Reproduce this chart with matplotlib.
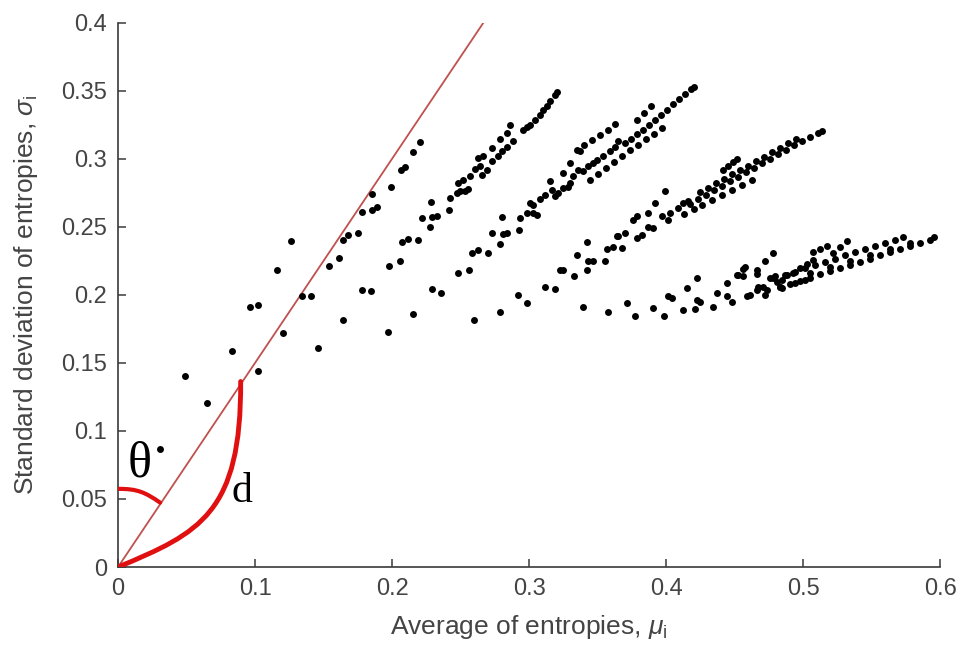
import numpy as np
import matplotlib
matplotlib.use("Agg")
import matplotlib.pyplot as plt
from matplotlib.path import Path
from matplotlib.patches import PathPatch

# ---------------- data ----------------
# points near the red reference line
mu_near = [0.0307, 0.0489, 0.0647, 0.0830, 0.0964, 0.1024, 0.1024, 0.1158, 0.1259, 0.1207,
           0.1341, 0.1407, 0.1462, 0.1540, 0.1615, 0.1645, 0.1681, 0.1752, 0.1645, 0.1779,
           0.1852, 0.1888, 0.1852, 0.1779, 0.1843, 0.1989, 0.2062, 0.2091, 0.2155, 0.2204,
           0.1973]
sd_near = [0.0868, 0.1404, 0.1208, 0.1588, 0.1910, 0.1926, 0.1441, 0.2180, 0.2393, 0.1721,
           0.1993, 0.1993, 0.1608, 0.2213, 0.2270, 0.2404, 0.2441, 0.2454, 0.1813, 0.2608,
           0.2621, 0.2642, 0.2741, 0.2037, 0.2026, 0.2792, 0.2915, 0.2938, 0.3048, 0.3123,
           0.1726]

# first fan (ends near 0.32, 0.35)
mu_fan1 = [0.1978, 0.2058, 0.2071, 0.2119, 0.2190, 0.2155, 0.2290, 0.2354, 0.2217, 0.2277,
           0.2288, 0.2326, 0.2285, 0.2416, 0.2423, 0.2472, 0.2496, 0.2533, 0.2557, 0.2484,
           0.2520, 0.2569, 0.2606, 0.2642, 0.2655, 0.2691, 0.2728, 0.2776, 0.2801, 0.2837,
           0.2885, 0.2630, 0.2666, 0.2728, 0.2788, 0.2837, 0.2861, 0.2958, 0.3007, 0.3044,
           0.3080, 0.3104, 0.3153, 0.3190, 0.3204, 0.2983, 0.3128]
sd_fan1 = [0.2213, 0.2245, 0.2385, 0.2410, 0.2404, 0.1858, 0.2042, 0.2011, 0.2563, 0.2495,
           0.2571, 0.2581, 0.2679, 0.2625, 0.2710, 0.2748, 0.2760, 0.2765, 0.2777, 0.2821,
           0.2846, 0.2870, 0.2924, 0.2949, 0.2882, 0.2919, 0.2980, 0.3022, 0.3054, 0.3090,
           0.3127, 0.3005, 0.3017, 0.3079, 0.3145, 0.3189, 0.3250, 0.3213, 0.3250, 0.3282,
           0.3324, 0.3355, 0.3421, 0.3471, 0.3489, 0.3230, 0.3390]

# second fan (ends near 0.42, 0.35)
mu_fan2 = [0.2484, 0.2562, 0.2582, 0.2630, 0.2699, 0.2595, 0.2728, 0.2788, 0.2801, 0.2812,
           0.2842, 0.2929, 0.2934, 0.2983, 0.3031, 0.3056, 0.3007, 0.3031, 0.3080, 0.3117,
           0.3166, 0.3190, 0.3214, 0.3250, 0.3287, 0.3299, 0.3153, 0.3250, 0.3299, 0.3372,
           0.3323, 0.3360, 0.3396, 0.3433, 0.3469, 0.3494, 0.3542, 0.3591, 0.3628, 0.3652,
           0.3701, 0.3745, 0.3788, 0.3832, 0.3876, 0.3920, 0.3964, 0.4007, 0.4051, 0.4095,
           0.4139, 0.4182, 0.4204,
           0.3445, 0.3504, 0.3562, 0.3620, 0.3679, 0.3737, 0.3796, 0.3854, 0.3912, 0.3971,
           0.3350, 0.3401, 0.3460, 0.3518, 0.3577, 0.3628, 0.3788, 0.3839, 0.3891]
sd_fan2 = [0.2164, 0.2179, 0.2311, 0.2326, 0.2307, 0.1816, 0.2458, 0.2375, 0.2571, 0.2449,
           0.2454, 0.2478, 0.2568, 0.2605, 0.2601, 0.2588, 0.2674, 0.2662, 0.2704, 0.2735,
           0.2772, 0.2723, 0.2748, 0.2785, 0.2796, 0.2821, 0.2833, 0.2895, 0.2968, 0.3054,
           0.2870, 0.2919, 0.2907, 0.2944, 0.2968, 0.2993, 0.3017, 0.3054, 0.3090, 0.3127,
           0.3118, 0.3147, 0.3184, 0.3213, 0.3250, 0.3287, 0.3324, 0.3360, 0.3404, 0.3441,
           0.3478, 0.3515, 0.3529,
           0.2846, 0.2890, 0.2934, 0.2978, 0.3022, 0.3066, 0.3103, 0.3147, 0.3184, 0.3228,
           0.3066, 0.3103, 0.3140, 0.3176, 0.3213, 0.3257, 0.3287, 0.3338, 0.3390]

# third fan (ends near 0.51, 0.32)
mu_fan3 = [0.2917, 0.2983, 0.2788, 0.3117, 0.3190, 0.3226, 0.3250, 0.3328, 0.3348, 0.3421,
           0.3421, 0.3433, 0.3469, 0.3555, 0.3567, 0.3615, 0.3652, 0.3396, 0.3579,
           0.3640, 0.3701, 0.3677, 0.3786, 0.3823, 0.3761, 0.3786, 0.3871, 0.3907, 0.3871,
           0.3920, 0.3993, 0.3969, 0.4017, 0.4029, 0.4090, 0.4126, 0.4163,
           0.4175, 0.4234, 0.4292, 0.4350, 0.4409, 0.4467, 0.4526, 0.4584, 0.4642, 0.4701,
           0.4759, 0.4818, 0.4876, 0.4934, 0.4993, 0.5051, 0.5109, 0.5139,
           0.4248, 0.4307, 0.4365, 0.4423, 0.4482, 0.4540, 0.4599, 0.4657, 0.4715, 0.4774,
           0.4832, 0.4891, 0.4949,
           0.4416, 0.4453, 0.4489, 0.4518,
           0.4131, 0.4204, 0.4263, 0.4336, 0.4409, 0.4482, 0.4555, 0.4628]
sd_fan3 = [0.2000, 0.1943, 0.1873, 0.2057, 0.2044, 0.2179, 0.2179, 0.2140, 0.2294, 0.2385,
           0.2179, 0.2245, 0.2245, 0.2250, 0.2336, 0.2355, 0.2434, 0.1907, 0.1873,
           0.2429, 0.2454, 0.2343, 0.2417, 0.2441, 0.2551, 0.2576, 0.2502, 0.2490, 0.2601,
           0.2674, 0.2760, 0.2576, 0.2551, 0.2601, 0.2638, 0.2674, 0.2686,
           0.2669, 0.2706, 0.2735, 0.2772, 0.2801, 0.2838, 0.2868, 0.2904, 0.2934, 0.2971,
           0.3000, 0.3037, 0.3066, 0.3103, 0.3132, 0.3162, 0.3191, 0.3206,
           0.2757, 0.2787, 0.2824, 0.2853, 0.2890, 0.2919, 0.2949, 0.2985, 0.3015, 0.3051,
           0.3081, 0.3118, 0.3147,
           0.2919, 0.2949, 0.2978, 0.3000,
           0.2596, 0.2632, 0.2662, 0.2699, 0.2735, 0.2772, 0.2809, 0.2846]

# fourth fan (ends near 0.60, 0.24)
mu_fan4 = [0.3713, 0.3774, 0.3907, 0.3985, 0.4017, 0.4042, 0.4126, 0.4151, 0.4212, 0.4224,
           0.4224, 0.4248, 0.4345, 0.4370, 0.4443, 0.4443, 0.4480, 0.4528, 0.4564, 0.4589,
           0.4613, 0.4662, 0.4662, 0.4723, 0.4783, 0.4710, 0.4735, 0.4783, 0.4808, 0.4845,
           0.4832, 0.4905, 0.4978, 0.5051, 0.5124, 0.5197, 0.5270, 0.5343, 0.5416, 0.5489,
           0.5562, 0.5635, 0.5708, 0.5781, 0.5854, 0.5927, 0.5956,
           0.4869, 0.4942, 0.5015, 0.5088, 0.5161, 0.5234, 0.5307, 0.5380, 0.5453, 0.5526,
           0.5599, 0.5672, 0.5730,
           0.5219, 0.5270, 0.5321,
           0.5051, 0.5197, 0.5343, 0.5489, 0.5635, 0.5781,
           0.4577, 0.4516, 0.4564, 0.4662, 0.4674, 0.4723, 0.4759, 0.4796, 0.4832, 0.4845,
           0.4881, 0.4929, 0.4978, 0.5027, 0.5075, 0.5073, 0.5124, 0.5175, 0.4942, 0.5015]
sd_fan4 = [0.1943, 0.1848, 0.1902, 0.1848, 0.1988, 0.1976, 0.1890, 0.2049, 0.1895, 0.2123,
           0.1963, 0.1951, 0.1910, 0.2013, 0.2086, 0.1988, 0.1951, 0.2147, 0.2189, 0.1988,
           0.2000, 0.2037, 0.2184, 0.2245, 0.2307, 0.2061, 0.2037, 0.2123, 0.2098, 0.2049,
           0.2059, 0.2081, 0.2103, 0.2125, 0.2154, 0.2176, 0.2199, 0.2221, 0.2243, 0.2265,
           0.2294, 0.2316, 0.2338, 0.2360, 0.2382, 0.2404, 0.2426,
           0.2147, 0.2169, 0.2199, 0.2221, 0.2243, 0.2265, 0.2294, 0.2316, 0.2338, 0.2360,
           0.2382, 0.2404, 0.2426,
           0.2309, 0.2353, 0.2397,
           0.2162, 0.2206, 0.2250, 0.2294, 0.2338, 0.2382,
           0.2201, 0.2147, 0.2135, 0.2152, 0.2061, 0.2000, 0.2123, 0.2135, 0.2061, 0.2110,
           0.2147, 0.2160, 0.2196, 0.2226, 0.2257, 0.2316, 0.2338, 0.2360, 0.2088, 0.2110]

# reference line sigma = 1.5 * mu
line_mu = [0.0, 0.2667]
line_sd = [0.0, 0.4]

# hand-drawn annotation strokes (cubic Bezier control points)
theta_mu = [0.0, 0.0140, 0.0200, 0.0307]
theta_sd = [0.0574, 0.0576, 0.0548, 0.0473]
d_mu = [0.0, 0.0600, 0.0900, 0.0895]
d_sd = [0.0, 0.0250, 0.0400, 0.1363]

x_ticks = [0, 0.1, 0.2, 0.3, 0.4, 0.5, 0.6]
x_tick_labels = ['0', '0.1', '0.2', '0.3', '0.4', '0.5', '0.6']
y_ticks = [0, 0.05, 0.1, 0.15, 0.2, 0.25, 0.3, 0.35, 0.4]
y_tick_labels = ['0', '0.05', '0.1', '0.15', '0.2', '0.25', '0.3', '0.35', '0.4']

# ---------------- plot ----------------
plt.rcParams['font.family'] = ['Liberation Sans', 'DejaVu Sans']
plt.rcParams['mathtext.fontset'] = 'custom'
plt.rcParams['mathtext.rm'] = 'Liberation Sans'
plt.rcParams['mathtext.it'] = 'Liberation Sans:italic'

fig = plt.figure(figsize=(9.62, 6.59), dpi=100)
ax = fig.add_axes([0.1227, 0.1396, 0.8545, 0.826])

grey = '#3a3a3a'

ax.plot(line_mu, line_sd, color='#c0504d', lw=1.3, zorder=2)

mu_all = mu_near + mu_fan1 + mu_fan2 + mu_fan3 + mu_fan4
sd_all = sd_near + sd_fan1 + sd_fan2 + sd_fan3 + sd_fan4
ax.plot(mu_all, sd_all, 'o', color='black', ms=5.0, mew=0, zorder=3, clip_on=False)

bez = [Path.MOVETO, Path.CURVE4, Path.CURVE4, Path.CURVE4]
ax.add_patch(PathPatch(Path(list(zip(theta_mu, theta_sd)), bez), fill=False,
                       edgecolor='#e01010', lw=3, capstyle='round', zorder=4))
ax.add_patch(PathPatch(Path(list(zip(d_mu, d_sd)), bez), fill=False,
                       edgecolor='#e01010', lw=3.5, capstyle='round', zorder=4))

ax.text(0.016, 0.0755, '\u03b8', family=['Liberation Serif', 'DejaVu Serif'],
        fontsize=36, ha='center', va='center', color='black')
ax.text(0.0905, 0.0555, 'd', family=['Liberation Serif', 'DejaVu Serif'],
        fontsize=30, ha='center', va='center', color='black')

ax.set_xlim(0, 0.6)
ax.set_ylim(0, 0.4)
ax.set_xticks(x_ticks)
ax.set_xticklabels(x_tick_labels)
ax.set_yticks(y_ticks)
ax.set_yticklabels(y_tick_labels)

for s in ['top', 'right']:
    ax.spines[s].set_visible(False)
for s in ['left', 'bottom']:
    ax.spines[s].set_color(grey)
    ax.spines[s].set_linewidth(1.2)

ax.tick_params(direction='in', length=6, width=1.1, colors=grey, labelsize=17,
               labelcolor='#444444', pad=8)

ax.set_xlabel(r'Average of entropies, $\mu_{\rm i}$', fontsize=19, color='#444444')
ax.set_ylabel(r'Standard deviation of entropies, $\sigma_{\rm i}$', fontsize=19, color='#444444')
ax.xaxis.set_label_coords(0.5, -0.085)
ax.yaxis.set_label_coords(-0.095, 0.5)

fig.savefig('out.png', dpi=100, facecolor='white')
